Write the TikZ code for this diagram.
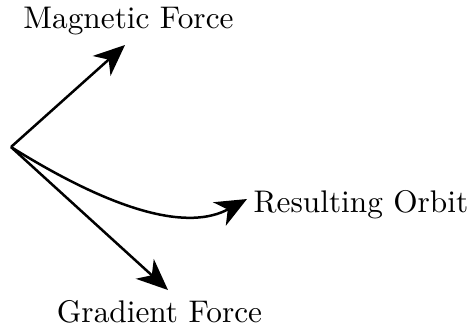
\documentclass[tikz,border=0pt]{standalone}
\usetikzlibrary{arrows.meta}
\begin{document}
\begin{tikzpicture}[x=0.3195pt,y=-0.3195pt,
  vec/.style={line width=0.8pt,-{Stealth[length=10pt,width=8.5pt,inset=3pt]}},
  lbl/.style={inner sep=0pt,anchor=base,font=\normalsize}]
\useasboundingbox (0,0) rectangle (472,333);
\coordinate (O) at (11,147);
\coordinate (mtip) at (125,45);
\coordinate (gtip) at (168,290);
\coordinate (rtip) at (247,199);
\node[lbl] (mag) at (128.5,28) {Magnetic Force};
\node[lbl] (grad) at (159.5,322) {Gradient Force};
\node[lbl,anchor=base west] (res) at (253,212) {Resulting Orbit};
\draw[vec] (O) -- (mtip);
\draw[vec] (O) -- (gtip);
\draw[vec] (O) .. controls (120,215) and (190,230) .. (rtip);
\end{tikzpicture}
\end{document}
